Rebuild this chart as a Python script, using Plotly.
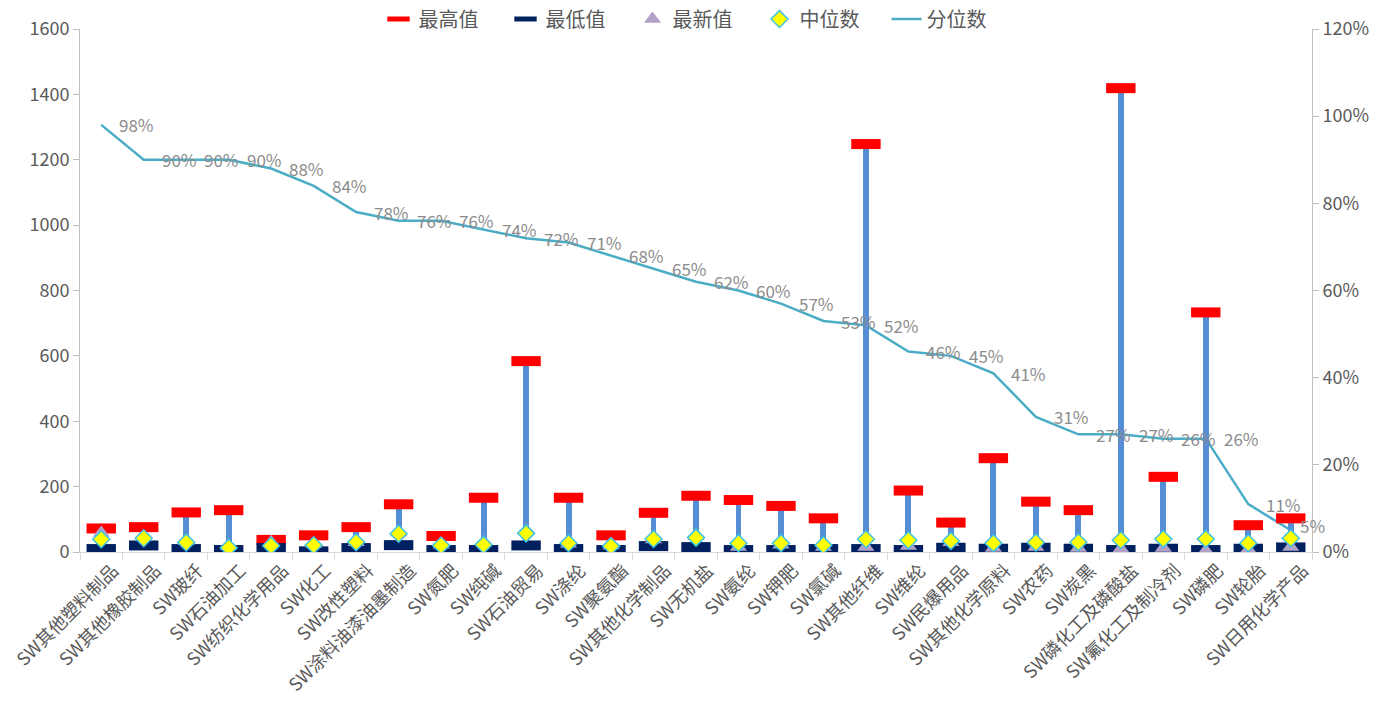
import plotly.graph_objects as go

categories = ["SW其他塑料制品", "SW其他橡胶制品", "SW玻纤", "SW石油加工", "SW纺织化学用品",
              "SW化工", "SW改性塑料", "SW涂料油漆油墨制造", "SW氮肥", "SW纯碱",
              "SW石油贸易", "SW涤纶", "SW聚氨酯", "SW其他化学制品", "SW无机盐",
              "SW氨纶", "SW钾肥", "SW氯碱", "SW其他纤维", "SW维纶",
              "SW民爆用品", "SW其他化学原料", "SW农药", "SW炭黑", "SW磷化工及磷酸盐",
              "SW氟化工及制冷剂", "SW磷肥", "SW轮胎", "SW日用化学产品"]

max_vals = [72, 76, 121, 128, 37, 51, 76, 146, 49, 166,
            584, 166, 51, 120, 172, 159, 141, 103, 1248, 188,
            90, 287, 154, 128, 1419, 230, 733, 82, 103]
min_vals = [9, 20, 9, 6, 12, 2, 12, 21, 6, 6,
            20, 9, 6, 18, 15, 6, 6, 9, 9, 6,
            13, 10, 13, 10, 6, 10, 6, 10, 14]
latest_vals = [58, 46, 34, 18, 30, 25, 30, 60, 22, 30,
               65, 25, 20, 38, 50, 15, 22, 15, 15, 18,
               30, 12, 15, 12, 10, 12, 4, 8, 15]
median_vals = [39, 42, 29, 13, 19, 21, 30, 56, 20, 22,
               57, 27, 18, 40, 44, 27, 27, 21, 39, 36,
               34, 27, 29, 30, 36, 40, 40, 27, 42]
pct_vals = [0.98, 0.90, 0.90, 0.90, 0.88, 0.84, 0.78, 0.76, 0.76, 0.74,
            0.72, 0.71, 0.68, 0.65, 0.62, 0.60, 0.57, 0.53, 0.52, 0.46,
            0.45, 0.41, 0.31, 0.27, 0.27, 0.26, 0.26, 0.11, 0.05]

FONT = "Noto Sans CJK SC, Noto Sans, sans-serif"
GREY = "#595959"

fig = go.Figure()

# percentile line on primary (right-side) axis, drawn underneath
fig.add_trace(go.Scatter(
    x=categories, y=pct_vals, mode="lines", name="分位数",
    line=dict(color="#4BACC6", width=2.5),
    yaxis="y", legendrank=5,
))

# range bar min->max
fig.add_trace(go.Bar(
    x=categories, y=[a - b for a, b in zip(max_vals, min_vals)], base=min_vals,
    width=0.14, marker=dict(color="#558ED5", line=dict(width=0)),
    showlegend=False, yaxis="y2",
))

fig.add_trace(go.Scatter(
    x=categories, y=max_vals, mode="markers", name="最高值",
    marker=dict(symbol="line-ew", size=21, line=dict(color="#FF0000", width=10)),
    yaxis="y2", legendrank=1,
))
fig.add_trace(go.Scatter(
    x=categories, y=min_vals, mode="markers", name="最低值",
    marker=dict(symbol="line-ew", size=21, line=dict(color="#002060", width=10)),
    yaxis="y2", legendrank=2,
))
fig.add_trace(go.Scatter(
    x=categories, y=latest_vals, mode="markers", name="最新值",
    marker=dict(symbol="triangle-up", size=15, color="#B3A2C7", line=dict(width=0)),
    yaxis="y2", legendrank=3,
))
fig.add_trace(go.Scatter(
    x=categories, y=median_vals, mode="markers", name="中位数",
    marker=dict(symbol="diamond", size=13, color="#FFFF00", line=dict(color="#3FC1E6", width=1.5)),
    yaxis="y2", legendrank=4,
))

# percentile data labels (to the right of each point)
last = len(categories) - 1
for i, (c, v) in enumerate(zip(categories, pct_vals)):
    fig.add_annotation(x=c, y=v, xref="x", yref="y", text=f"{round(v*100)}%",
                       showarrow=False, xanchor="left", yanchor="middle",
                       xshift=7 if i == last else 16, yshift=5 if i == last else 0,
                       font=dict(size=17, color="#8C8C8C", family=FONT))

fig.update_layout(
    width=1396, height=725,
    margin=dict(l=80, r=84, t=29, b=173, autoexpand=False),
    paper_bgcolor="white", plot_bgcolor="white",
    font=dict(family=FONT, color=GREY, size=16),
    hovermode=False,
    bargap=0,
    legend=dict(orientation="h", x=0.5, xanchor="center", y=1.019, yanchor="middle",
                font=dict(size=20, color=GREY, family=FONT), traceorder="normal",
                entrywidth=82, entrywidthmode="pixels",
                bgcolor="rgba(0,0,0,0)"),
    xaxis=dict(type="category", range=[-0.5, len(categories) - 0.5],
               tickangle=-45, tickson="boundaries", ticklabelshift=12,
               ticks="outside", ticklen=7, tickcolor="#D9D9D9",
               showline=True, linecolor="#D9D9D9", linewidth=1,
               showgrid=False, zeroline=False, automargin=False,
               tickfont=dict(size=18, color=GREY, family=FONT)),
    yaxis=dict(side="right", range=[0, 1.2], dtick=0.2, tickformat=".0%",
               showgrid=False, zeroline=False, showline=True, linecolor="#BFBFBF",
               ticks="outside", ticklen=6, tickcolor="#BFBFBF", automargin=False,
               tickfont=dict(size=18, color=GREY, family=FONT)),
    yaxis2=dict(side="left", overlaying="y", range=[0, 1600], dtick=200,
                showgrid=False, zeroline=False, showline=True, linecolor="#BFBFBF",
                ticks="outside", ticklen=6, tickcolor="#BFBFBF", automargin=False,
                tickfont=dict(size=18, color=GREY, family=FONT)),
)

fig.write_html("out.html")
